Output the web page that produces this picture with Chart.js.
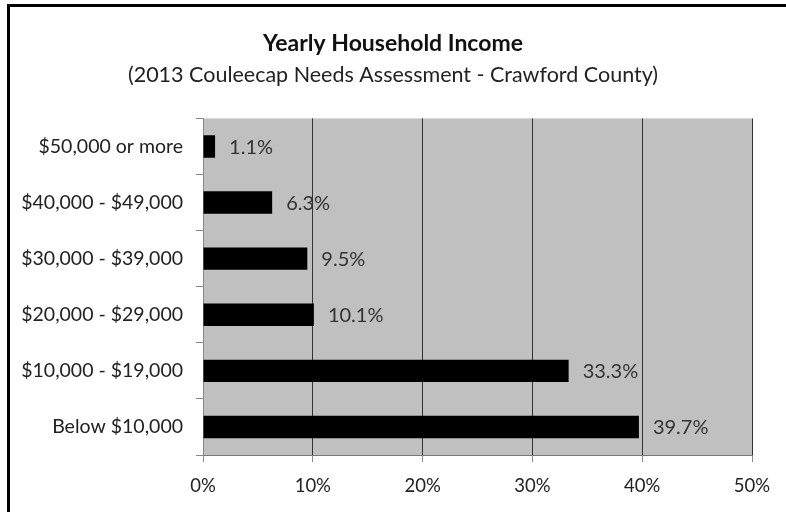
<!DOCTYPE html>
<html>
<head>
<meta charset="utf-8">
<script src="https://cdn.jsdelivr.net/npm/chart.js@4"></script>
<style>
  html, body { margin: 0; padding: 0; background: #fff; }
  #wrap { width: 786px; height: 512px; }
</style>
</head>
<body>
<div id="wrap"><canvas id="grafico_renda"></canvas></div>
<script>
let ctx = document.getElementById('grafico_renda')

const categorias = ['$50,000 or more', '$40,000 - $49,000', '$30,000 - $39,000',
                    '$20,000 - $29,000', '$10,000 - $19,000', 'Below $10,000']
const percentuais = [1.1, 6.3, 9.5, 10.1, 33.3, 39.7]
const ticksX = [0, 10, 20, 30, 40, 50]

const fonte = 'Lato, "Open Sans", sans-serif'

// moldura, fundo da área do gráfico e rótulos de valor
const moldura = {
    id: 'moldura',
    beforeDraw(chart) {
        const c = chart.ctx
        const a = chart.chartArea
        c.save()
        c.fillStyle = '#fff'
        c.fillRect(0, 0, chart.width, chart.height)
        c.fillStyle = '#000'
        c.fillRect(7, 4, 3, chart.height - 4)
        c.fillRect(7, 4, chart.width - 7, 3)
        c.fillStyle = '#c0c0c0'
        c.fillRect(a.left, a.top, a.right - a.left, a.bottom - a.top)
        c.restore()
    },
    afterDatasetsDraw(chart) {
        const c = chart.ctx
        const meta = chart.getDatasetMeta(0)
        c.save()
        c.font = '20px ' + fonte
        c.fillStyle = '#333'
        c.textBaseline = 'middle'
        c.textAlign = 'left'
        meta.data.forEach((bar, i) => {
            c.fillText(percentuais[i].toFixed(1) + '%', bar.x + 14, bar.y + 1)
        })
        c.restore()
    }
}

const data = {
    labels: categorias,
    datasets: [{
        data: percentuais,
        backgroundColor: '#000',
        borderWidth: 0,
        barPercentage: 0.4,
        categoryPercentage: 1
    }]
}

const config = {
    type: 'bar',
    data,
    plugins: [moldura],
    options: {
        indexAxis: 'y',
        responsive: true,
        maintainAspectRatio: false,
        animation: false,
        layout: { padding: { left: 22, right: 22, top: 0, bottom: 0 } },
        plugins: {
            legend: { display: false },
            tooltip: { enabled: false },
            title: {
                display: true,
                text: 'Yearly Household Income',
                color: '#111',
                font: { family: fonte, size: 23, weight: 'bold' },
                padding: { top: 30, bottom: 0 }
            },
            subtitle: {
                display: true,
                text: '(2013 Couleecap Needs Assessment - Crawford County)',
                color: '#222',
                font: { family: fonte, size: 21.5 },
                padding: { top: 5, bottom: 30 }
            }
        },
        scales: {
            x: {
                min: 0,
                max: 50,
                afterBuildTicks(scale) {
                    scale.ticks = ticksX.map(v => ({ value: v }))
                },
                afterFit(scale) { scale.height = 57 },
                ticks: {
                    color: '#222',
                    font: { family: fonte, size: 18.5 },
                    padding: 13,
                    callback: v => v + '%'
                },
                grid: {
                    color: '#333',
                    lineWidth: 1,
                    tickLength: 7,
                    tickColor: '#888'
                },
                border: { display: true, color: '#777' }
            },
            y: {
                afterFit(scale) { scale.width = 181 },
                ticks: {
                    color: '#222',
                    font: { family: fonte, size: 19.5 },
                    padding: 13
                },
                grid: {
                    offset: true,
                    drawOnChartArea: false,
                    tickLength: 7,
                    tickColor: '#888'
                },
                border: { display: true, color: '#888' }
            },
            // margem direita vazia para o último rótulo do eixo x
            margem: {
                axis: 'y',
                position: 'right',
                afterFit(scale) { scale.width = 12 },
                ticks: { display: false },
                grid: { display: false },
                border: { display: false }
            }
        }
    }
}

const graph = new Chart(ctx, config)
</script>
</body>
</html>
